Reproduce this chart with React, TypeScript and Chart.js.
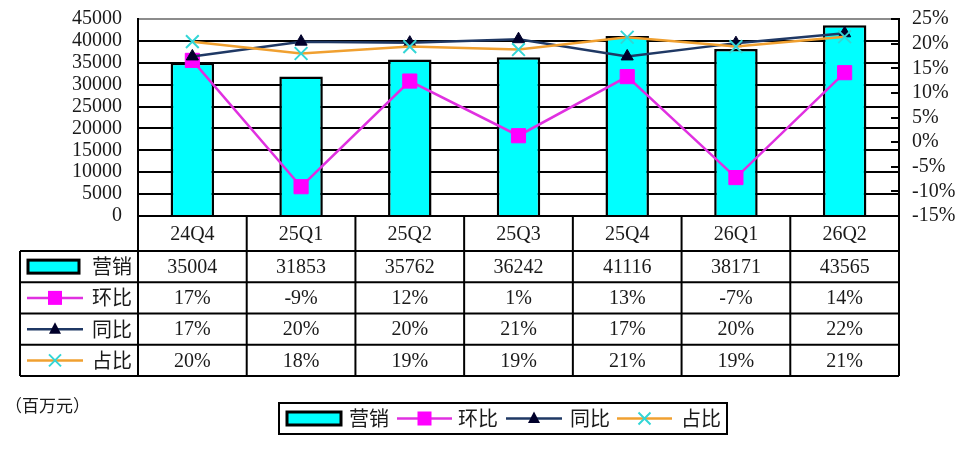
import { useEffect, useRef } from "react";
import { Chart, registerables } from "chart.js";

Chart.register(...registerables);

// 季度
const categories = ["24Q4", "25Q1", "25Q2", "25Q3", "25Q4", "26Q1", "26Q2"];
// 营销 (百万元)
const sales = [35004, 31853, 35762, 36242, 41116, 38171, 43565];
// 环比 / 同比 / 占比 (%)
const qoq = [16.6, -9.05, 12.4, 1.3, 13.3, -7.2, 14.1];
const yoy = [17.4, 20.4, 20.2, 20.9, 17.4, 20.1, 22.1];
const share = [20.4, 18.0, 19.4, 18.8, 21.3, 19.4, 21.4];

const leftMin = 0;
const leftMax = 45000;
const leftStep = 5000;
const rightMin = -15;
const rightMax = 25;
const rightStep = 5;

const FONT = "'Liberation Serif', 'Noto Sans CJK SC', serif";
const CJK = "'Noto Sans CJK SC', sans-serif";
const TEXT = "#1a1a1a";

const BAR_FILL = "#00FFFF";
const QOQ_LINE = "#E030E0";
const QOQ_MARK = "#FF00FF";
const YOY_LINE = "#1F3864";
const YOY_MARK = "#00002A";
const SHARE_LINE = "#F0A030";
const SHARE_MARK = "#33D6D6";

type Kind = "bar" | "square" | "triangle" | "cross";

function drawMarker(ctx: CanvasRenderingContext2D, kind: Kind, x: number, y: number) {
    if (kind === "square") {
        ctx.fillStyle = QOQ_MARK;
        ctx.fillRect(x - 7, y - 7, 14, 14);
    } else if (kind === "triangle") {
        ctx.fillStyle = YOY_MARK;
        ctx.beginPath();
        ctx.moveTo(x, y - 7);
        ctx.lineTo(x + 6, y + 4.5);
        ctx.lineTo(x - 6, y + 4.5);
        ctx.closePath();
        ctx.fill();
    } else if (kind === "cross") {
        ctx.strokeStyle = SHARE_MARK;
        ctx.lineWidth = 2;
        ctx.beginPath();
        ctx.moveTo(x - 6, y - 6);
        ctx.lineTo(x + 6, y + 6);
        ctx.moveTo(x + 6, y - 6);
        ctx.lineTo(x - 6, y + 6);
        ctx.stroke();
    }
}

function drawKey(ctx: CanvasRenderingContext2D, kind: Kind, x1: number, x2: number, y: number) {
    if (kind === "bar") {
        ctx.fillStyle = BAR_FILL;
        ctx.fillRect(x1, y - 6.5, x2 - x1, 13);
        ctx.strokeStyle = "#000";
        ctx.lineWidth = 3;
        ctx.strokeRect(x1, y - 6.5, x2 - x1, 13);
        return;
    }
    const color = kind === "square" ? QOQ_LINE : kind === "triangle" ? YOY_LINE : SHARE_LINE;
    ctx.strokeStyle = color;
    ctx.lineWidth = 2.5;
    ctx.beginPath();
    ctx.moveTo(x1, y);
    ctx.lineTo(x2, y);
    ctx.stroke();
    drawMarker(ctx, kind, (x1 + x2) / 2, y);
}

function seg(ctx: CanvasRenderingContext2D, x1: number, y1: number, x2: number, y2: number) {
    ctx.beginPath();
    ctx.moveTo(x1, y1);
    ctx.lineTo(x2, y2);
    ctx.stroke();
}

const pct = (v: number) => `${Math.round(v)}%`;

const rows: { label: string; kind: Kind; values: string[] }[] = [
    { label: "营销", kind: "bar", values: sales.map(String) },
    { label: "环比", kind: "square", values: qoq.map(pct) },
    { label: "同比", kind: "triangle", values: yoy.map(pct) },
    { label: "占比", kind: "cross", values: share.map(pct) },
];

const tablePlugin = {
    id: "dataTable",
    afterDraw(chart: Chart) {
        const { ctx, chartArea } = chart;
        const xs = chart.scales.x;
        const step = xs.getPixelForValue(1) - xs.getPixelForValue(0);
        const left = chartArea.left;
        const right = chartArea.right;
        const top = chartArea.bottom;
        const headH = 35;
        const rowH = 31.25;
        const keyLeft = 20;
        const bodyTop = top + headH;
        const bottom = bodyTop + rows.length * rowH;

        ctx.save();
        ctx.strokeStyle = "#000";
        ctx.lineWidth = 2;
        seg(ctx, left, top, right, top);
        for (let r = 0; r <= rows.length; r++) {
            seg(ctx, keyLeft, bodyTop + r * rowH, right, bodyTop + r * rowH);
        }
        seg(ctx, keyLeft, bodyTop, keyLeft, bottom);
        for (let i = 0; i <= categories.length; i++) {
            const x = i < categories.length ? xs.getPixelForValue(i) - step / 2 : xs.getPixelForValue(i - 1) + step / 2;
            seg(ctx, x, top, x, bottom);
        }

        ctx.fillStyle = TEXT;
        ctx.font = `20px ${FONT}`;
        ctx.textAlign = "center";
        ctx.textBaseline = "middle";
        categories.forEach((c, i) => {
            ctx.fillText(c, xs.getPixelForValue(i), top + headH / 2 + 1);
        });

        rows.forEach((row, r) => {
            const cy = bodyTop + r * rowH + rowH / 2;
            ctx.fillStyle = TEXT;
            ctx.font = `20px ${FONT}`;
            ctx.textAlign = "center";
            ctx.textBaseline = "middle";
            row.values.forEach((v, i) => ctx.fillText(v, xs.getPixelForValue(i), cy + 1));
            if (row.kind === "bar") drawKey(ctx, row.kind, 28, 79, cy);
            else drawKey(ctx, row.kind, 27, 83, cy);
            ctx.fillStyle = TEXT;
            ctx.font = `20px ${CJK}`;
            ctx.textAlign = "left";
            ctx.fillText(row.label, 92, cy);
        });

        // unit
        ctx.fillStyle = TEXT;
        ctx.font = `17px ${CJK}`;
        ctx.textAlign = "left";
        ctx.textBaseline = "middle";
        ctx.fillText("（百万元）", 5, 406);

        // legend
        ctx.strokeStyle = "#000";
        ctx.lineWidth = 2;
        ctx.strokeRect(279, 403, 448, 31);
        const ly = 418.5;
        const items: { kind: Kind; x1: number; x2: number; tx: number; label: string }[] = [
            { kind: "bar", x1: 287, x2: 341, tx: 349, label: rows[0].label },
            { kind: "square", x1: 397, x2: 452, tx: 458, label: rows[1].label },
            { kind: "triangle", x1: 506, x2: 562, tx: 570, label: rows[2].label },
            { kind: "cross", x1: 617, x2: 672, tx: 681, label: rows[3].label },
        ];
        items.forEach((it) => {
            drawKey(ctx, it.kind, it.x1, it.x2, ly);
            ctx.fillStyle = TEXT;
            ctx.font = `20px ${CJK}`;
            ctx.textAlign = "left";
            ctx.textBaseline = "middle";
            ctx.fillText(it.label, it.tx, ly);
        });
        ctx.restore();
    },
};

export default function App() {
    const canvasRef = useRef<HTMLCanvasElement | null>(null);

    useEffect(() => {
        document.body.style.margin = "0";
        if (!canvasRef.current) {
            return;
        }

        const chart = new Chart(canvasRef.current, {
            type: "bar",
            data: {
                labels: categories,
                datasets: [
                    {
                        type: "line",
                        label: "占比",
                        data: share,
                        yAxisID: "y1",
                        order: 0,
                        borderColor: SHARE_LINE,
                        borderWidth: 2.5,
                        pointStyle: "crossRot",
                        pointRadius: 9,
                        pointBorderColor: SHARE_MARK,
                        pointBorderWidth: 2,
                        tension: 0,
                    },
                    {
                        type: "line",
                        label: "同比",
                        data: yoy,
                        yAxisID: "y1",
                        order: 1,
                        borderColor: YOY_LINE,
                        borderWidth: 2.5,
                        pointStyle: "triangle",
                        pointRadius: 7,
                        pointBackgroundColor: YOY_MARK,
                        pointBorderColor: YOY_MARK,
                        pointBorderWidth: 1,
                        tension: 0,
                    },
                    {
                        type: "line",
                        label: "环比",
                        data: qoq,
                        yAxisID: "y1",
                        order: 2,
                        borderColor: QOQ_LINE,
                        borderWidth: 2.5,
                        pointStyle: "rect",
                        pointRadius: 10,
                        pointBackgroundColor: QOQ_MARK,
                        pointBorderColor: QOQ_MARK,
                        pointBorderWidth: 1,
                        tension: 0,
                    },
                    {
                        type: "bar",
                        label: "营销",
                        data: sales,
                        yAxisID: "y",
                        order: 3,
                        backgroundColor: BAR_FILL,
                        borderColor: "#000",
                        borderWidth: 2.5,
                        barPercentage: 0.4,
                        categoryPercentage: 1,
                    },
                ],
            },
            options: {
                animation: false,
                responsive: true,
                maintainAspectRatio: false,
                layout: { padding: { left: 0, right: 0, top: 19, bottom: 234 } },
                plugins: {
                    legend: { display: false },
                    tooltip: { enabled: false },
                },
                scales: {
                    x: { display: false, offset: true },
                    y: {
                        position: "left",
                        min: leftMin,
                        max: leftMax,
                        ticks: {
                            stepSize: leftStep,
                            autoSkip: false,
                            padding: 16,
                            color: TEXT,
                            font: { family: FONT, size: 20 },
                            callback: (v) => String(v),
                        },
                        grid: {
                            drawTicks: false,
                            lineWidth: 2,
                            color: (c) => (c.tick && c.tick.value === leftMax ? "#8c8c8c" : "#000"),
                        },
                        border: { color: "#000", width: 2 },
                        afterFit: (s) => {
                            s.width = 138;
                            s.paddingTop = 0;
                            s.paddingBottom = 0;
                        },
                    },
                    y1: {
                        position: "right",
                        min: rightMin,
                        max: rightMax,
                        ticks: {
                            stepSize: rightStep,
                            autoSkip: false,
                            padding: 21,
                            color: TEXT,
                            font: { family: FONT, size: 20 },
                            callback: (v) => `${v}%`,
                        },
                        grid: {
                            drawOnChartArea: false,
                            tickLength: -8,
                            lineWidth: 2,
                            color: "#000",
                        },
                        border: { color: "#000", width: 2 },
                        afterFit: (s) => {
                            s.width = 73;
                            s.paddingTop = 0;
                            s.paddingBottom = 0;
                        },
                    },
                },
            },
            plugins: [tablePlugin],
        });

        return () => chart.destroy();
    }, []);

    return (
        <div style={{ position: "relative", width: 972, height: 450, background: "#fff" }}>
            <canvas ref={canvasRef} />
        </div>
    );
}
